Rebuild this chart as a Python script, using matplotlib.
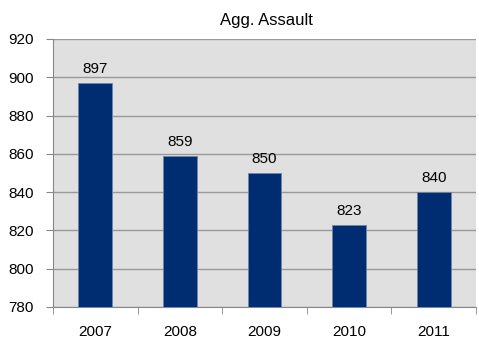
import matplotlib
matplotlib.use("Agg")
from matplotlib import pyplot as plt

years = ["2007", "2008", "2009", "2010", "2011"]
counts = [897, 859, 850, 823, 840]
y_ticks = [780, 800, 820, 840, 860, 880, 900, 920]

plt.rcParams['font.family'] = ['Liberation Sans', 'DejaVu Sans']

fig = plt.figure(figsize=(4.79, 3.39), dpi=100)
ax = fig.add_axes([53 / 479, 1 - 307 / 339, 423 / 479, 268 / 339])
ax.set_facecolor("#e0e0e0")

x = range(len(years))
bars = ax.bar(x, counts, width=0.4, color="#002d72", edgecolor="#6f86a8",
              linewidth=0.6, zorder=3)
for xi, v in zip(x, counts):
    ax.text(xi, v + 3.5, str(v), ha="center", va="bottom", fontsize=11, zorder=4)

ax.set_ylim(780, 920)
ax.set_xlim(-0.5, len(years) - 0.5)
ax.set_yticks(y_ticks)
ax.tick_params(axis="y", labelsize=11, length=5, color="#888888", pad=9)
ax.set_xticks(list(x))
ax.set_xticklabels(years)
ax.set_xticks([i - 0.5 for i in range(len(years) + 1)], minor=True)
ax.tick_params(axis="x", which="major", length=0, labelsize=11, pad=13)
ax.tick_params(axis="x", which="minor", length=5, color="#888888")
ax.grid(axis="y", color="#999999", linewidth=1, zorder=1)

for side in ["top", "right"]:
    ax.spines[side].set_visible(False)
ax.spines["left"].set_color("#888888")
ax.spines["bottom"].set_color("#888888")

fig.text(266 / 479, 1 - 20 / 339, "Agg. Assault", ha="center", va="center", fontsize=12)

fig.savefig("out.png", dpi=100)
